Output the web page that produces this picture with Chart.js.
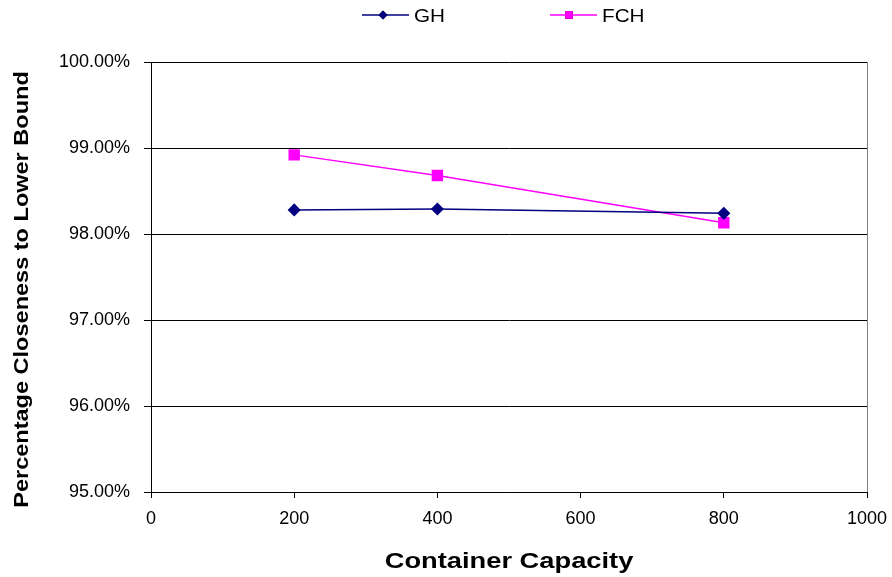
<!DOCTYPE html>
<html>
<head>
<meta charset="utf-8">
<script src="https://cdn.jsdelivr.net/npm/chart.js@4.4.1/dist/chart.umd.min.js"></script>
<style>
  html, body { margin: 0; padding: 0; background: #fff; }
  #wrap { width: 892px; height: 577px; position: relative; }
</style>
</head>
<body>
<div id="wrap"><canvas id="chart"></canvas></div>
<script>
// Data
const capacity = [200, 400, 800];
const ghValues = [98.28, 98.29, 98.24];
const fchValues = [98.92, 98.68, 98.13];
const xTickValues = [0, 200, 400, 600, 800, 1000];
const yTickValues = [95, 96, 97, 98, 99, 100];
const seriesNames = ['GH', 'FCH'];
const xTitle = 'Container Capacity';
const yTitle = 'Percentage Closeness to Lower Bound';

const FONT = "'Liberation Sans', Arial, sans-serif";

// the original text is a little stretched sideways, so draw it with a x-scale
function wideText(ctx, text, x, y, stretch) {
  ctx.save();
  ctx.translate(x, y);
  ctx.scale(stretch, 1);
  ctx.fillText(text, 0, 0);
  ctx.restore();
}

// Line + marker legend drawn above the plot, like the spreadsheet original
const lineLegend = {
  id: 'lineLegend',
  afterDraw(chart) {
    const ctx = chart.ctx;
    const spots = [{ x: 362, mark: 383, text: 414 }, { x: 550, mark: 569, text: 602 }];
    const y = 15;
    chart.data.datasets.forEach((ds, i) => {
      const s = spots[i];
      ctx.save();
      ctx.strokeStyle = ds.borderColor;
      ctx.lineWidth = 1.5;
      ctx.beginPath();
      ctx.moveTo(s.x, y);
      ctx.lineTo(s.x + 47, y);
      ctx.stroke();
      Chart.helpers.drawPoint(ctx, {
        pointStyle: ds.pointStyle,
        radius: ds.pointStyle === 'rect' ? 5.5 : 4.5,
        borderWidth: 0
      }, s.mark, y);
      ctx.fillStyle = ds.pointBackgroundColor;
      ctx.fill();
      ctx.fillStyle = '#000';
      ctx.font = '18px ' + FONT;
      ctx.textBaseline = 'alphabetic';
      ctx.textAlign = 'left';
      wideText(ctx, ds.label, s.text, y + 6.5, 1.15);
      ctx.restore();
    });
  }
};

// Axis titles, bold and stretched like the reference
const axisTitles = {
  id: 'axisTitles',
  afterDraw(chart) {
    const ctx = chart.ctx;
    const a = chart.chartArea;
    ctx.save();
    ctx.fillStyle = '#000';
    ctx.textAlign = 'center';
    ctx.textBaseline = 'alphabetic';
    ctx.font = 'bold 22px ' + FONT;
    wideText(ctx, xTitle, (a.left + a.right) / 2, 568, 1.24);
    ctx.font = 'bold 21px ' + FONT;
    ctx.translate(28, chart.height / 2 + 1);
    ctx.rotate(-Math.PI / 2);
    wideText(ctx, yTitle, 0, 0, 1.12);
    ctx.restore();
  }
};

// Grey plot-area edge on the right
const plotEdge = {
  id: 'plotEdge',
  beforeDatasetsDraw(chart) {
    const { ctx, chartArea } = chart;
    ctx.save();
    ctx.strokeStyle = '#808080';
    ctx.lineWidth = 1;
    ctx.beginPath();
    ctx.moveTo(Math.round(chartArea.right) + 0.5, chartArea.top);
    ctx.lineTo(Math.round(chartArea.right) + 0.5, chartArea.bottom);
    ctx.stroke();
    ctx.restore();
  }
};

function toPoints(xs, ys) {
  return xs.map((x, i) => ({ x: x, y: ys[i] }));
}

new Chart(document.getElementById('chart'), {
  type: 'scatter',
  data: {
    datasets: [
      {
        label: seriesNames[0],
        data: toPoints(capacity, ghValues),
        showLine: true,
        borderColor: '#000080',
        backgroundColor: '#000080',
        pointBackgroundColor: '#000080',
        pointBorderColor: '#000080',
        pointStyle: 'rectRot',
        pointRadius: 5.5,
        pointHoverRadius: 5.5,
        borderWidth: 1.5
      },
      {
        label: seriesNames[1],
        data: toPoints(capacity, fchValues),
        showLine: true,
        borderColor: '#ff00ff',
        backgroundColor: '#ff00ff',
        pointBackgroundColor: '#ff00ff',
        pointBorderColor: '#ff00ff',
        pointStyle: 'rect',
        pointRadius: 7,
        pointHoverRadius: 7,
        borderWidth: 1.5
      }
    ]
  },
  options: {
    responsive: true,
    maintainAspectRatio: false,
    animation: false,
    layout: { padding: { top: 62, right: 25, bottom: 0, left: 0 } },
    plugins: {
      legend: { display: false },
      tooltip: { enabled: false }
    },
    scales: {
      x: {
        type: 'linear',
        min: 0,
        max: 1000,
        afterBuildTicks: (scale) => { scale.ticks = xTickValues.map(v => ({ value: v })); },
        afterFit: (scale) => {
          scale.height = 85;
          scale.paddingLeft = 0;
          scale.paddingRight = 0;
        },
        ticks: {
          color: '#000',
          font: { family: FONT, size: 18 },
          padding: 10,
          maxRotation: 0,
          callback: (v) => String(v)
        },
        grid: { drawOnChartArea: false, drawTicks: true, tickLength: 6, color: '#000' },
        border: { display: true, color: '#000', width: 1 },
        title: { display: false }
      },
      y: {
        type: 'linear',
        min: 95,
        max: 100,
        afterBuildTicks: (scale) => { scale.ticks = yTickValues.map(v => ({ value: v })); },
        afterFit: (scale) => { scale.width = 151; },
        ticks: {
          color: '#000',
          font: { family: FONT, size: 18 },
          padding: 14,
          callback: (v) => v.toFixed(2) + '%'
        },
        grid: { color: '#000', lineWidth: 1, drawTicks: true, tickLength: 7 },
        border: { display: true, color: '#000', width: 1 },
        title: { display: false }
      }
    }
  },
  plugins: [lineLegend, axisTitles, plotEdge]
});
</script>
</body>
</html>
